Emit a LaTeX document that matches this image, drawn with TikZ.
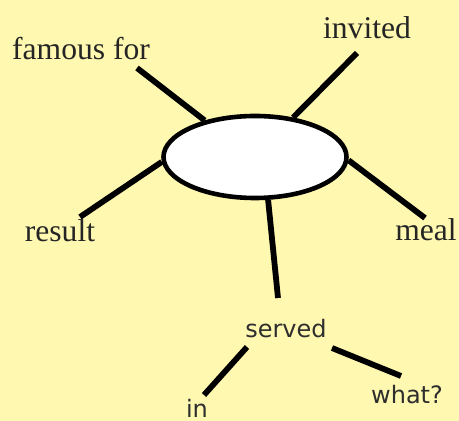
\documentclass[tikz,border=0pt]{standalone}
\usepackage{fontspec}
\setmainfont{Liberation Serif}
\setsansfont{DejaVu Sans}
\usepackage{xcolor}
\usetikzlibrary{shapes.geometric}
\definecolor{mpaper}{HTML}{FFF8B0}
\definecolor{mink}{HTML}{252525}
\definecolor{msans}{HTML}{2E2E2E}

\begin{document}
\begin{tikzpicture}[
  x=0.5pt,y=-0.5pt,
  hub/.style={ellipse,draw=black,line width=2.3pt,fill=white,inner sep=0pt,
              minimum width=91.5pt,minimum height=41pt},
  lbl/.style={anchor=base,inner sep=0pt,text=mink,
              font=\fontsize{15.8}{18}\selectfont},
  sub/.style={anchor=base,inner sep=0pt,text=msans,
              font=\sffamily\fontsize{12}{14}\selectfont},
  spoke/.style={draw=black,line width=2.9pt}
]
\fill[mpaper] (0,0) rectangle (459,421);
\useasboundingbox (0,0) rectangle (459,421);

% hub
\node[hub] (meet) at (255,157) {};

% labels
\node[lbl] (famous) at (81,60) {famous for};
\node[lbl] (invited) at (367,39) {invited};
\node[lbl] (result) at (60,242) {result};
\node[lbl] (meal) at (426,241) {meal};
\node[sub] (served) at (286,337) {served};
\node[sub] (in) at (197,417) {in};
\node[sub] (what) at (407,403) {what?};

% free ends
\coordinate (famousE) at (137,68);
\coordinate (invitedE) at (357,53);
\coordinate (resultE) at (80,217);
\coordinate (mealE) at (425,218);
\coordinate (servedE) at (278,298);
\coordinate (inA) at (247,347);
\coordinate (inB) at (204,395);
\coordinate (whatA) at (332,348);
\coordinate (whatB) at (401,376);

% spokes
\draw[spoke] (meet.144) -- (famousE);
\draw[spoke] (meet.46) -- (invitedE);
\draw[spoke] (meet.183) -- (resultE);
\draw[spoke] (meet.-2) -- (mealE);
\draw[spoke] (meet.-73) -- (servedE);
\draw[spoke] (inA) -- (inB);
\draw[spoke] (whatA) -- (whatB);
\end{tikzpicture}
\end{document}
